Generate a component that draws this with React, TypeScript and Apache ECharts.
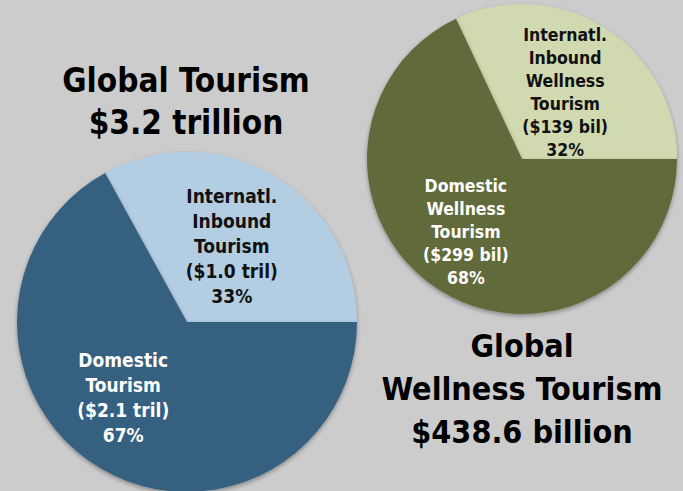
import React, { useEffect, useRef } from "react";
import * as echarts from "echarts";

const tourismNames = ["Internatl.\nInbound\nTourism", "Domestic\nTourism"];
const tourismAmounts = ["($1.0 tril)", "($2.1 tril)"];
const tourismShares = [33, 67];

const wellnessNames = ["Internatl.\nInbound\nWellness\nTourism", "Domestic\nWellness\nTourism"];
const wellnessAmounts = ["($139 bil)", "($299 bil)"];
const wellnessShares = [32, 68];

const titleLeft = ["Global Tourism", "$3.2 trillion"];
const titleRight = ["Global", "Wellness Tourism", "$438.6 billion"];

const FONT = "'DejaVu Sans Condensed', 'DejaVu Sans', sans-serif";

export default function App() {
  const ref = useRef<HTMLDivElement>(null);
  useEffect(() => {
    document.body.style.margin = "0";
    const chart = echarts.init(ref.current!, null, { renderer: "svg" });
    const shadow = { shadowBlur: 4, shadowOffsetY: 2, shadowColor: "rgba(0,0,0,0.35)" };
    chart.setOption({
      animation: false,
      backgroundColor: "#cccccc",
      series: [
        {
          type: "pie",
          center: [187, 322],
          radius: 170,
          startAngle: 0,
          clockwise: false,
          silent: true,
          labelLine: { show: false },
          label: {
            show: true,
            position: "inside",
            fontFamily: FONT,
            fontWeight: "bold",
            fontSize: 19,
            lineHeight: 25,
            formatter: (p: any) =>
              `${tourismNames[p.dataIndex]}\n${tourismAmounts[p.dataIndex]}\n${p.value}%`,
          },
          data: [
            {
              value: tourismShares[0],
              itemStyle: { color: "#b3cde3", ...shadow },
              label: { color: "#111111" },
            },
            {
              value: tourismShares[1],
              itemStyle: { color: "#36607f", ...shadow },
              label: { color: "#ffffff", offset: [-19, 0] },
            },
          ],
        },
        {
          type: "pie",
          center: [522, 159],
          radius: 155,
          startAngle: 0,
          clockwise: false,
          silent: true,
          labelLine: { show: false },
          label: {
            show: true,
            position: "inside",
            fontFamily: FONT,
            fontWeight: "bold",
            fontSize: 17.5,
            lineHeight: 23,
            formatter: (p: any) =>
              `${wellnessNames[p.dataIndex]}\n${wellnessAmounts[p.dataIndex]}\n${p.value}%`,
          },
          data: [
            {
              value: wellnessShares[0],
              itemStyle: { color: "#d1d9b0", ...shadow },
              label: { color: "#111111", offset: [0, 1] },
            },
            {
              value: wellnessShares[1],
              itemStyle: { color: "#616b3a", ...shadow },
              label: { color: "#ffffff", offset: [-13, 5] },
            },
          ],
        },
      ],
      graphic: [
        ...titleLeft.map((t, i) => ({
          type: "text",
          x: 186,
          y: 80 + i * 42,
          style: {
            text: t,
            fill: "#000",
            font: `bold 33px ${FONT}`,
            textAlign: "center",
            textVerticalAlign: "middle",
          },
        })),
        ...titleRight.map((t, i) => ({
          type: "text",
          x: 522,
          y: 346 + i * 43,
          style: {
            text: t,
            fill: "#000",
            font: `bold 32px ${FONT}`,
            textAlign: "center",
            textVerticalAlign: "middle",
          },
        })),
      ],
    });
    return () => chart.dispose();
  }, []);
  return <div ref={ref} style={{ width: 683, height: 491 }} />;
}
